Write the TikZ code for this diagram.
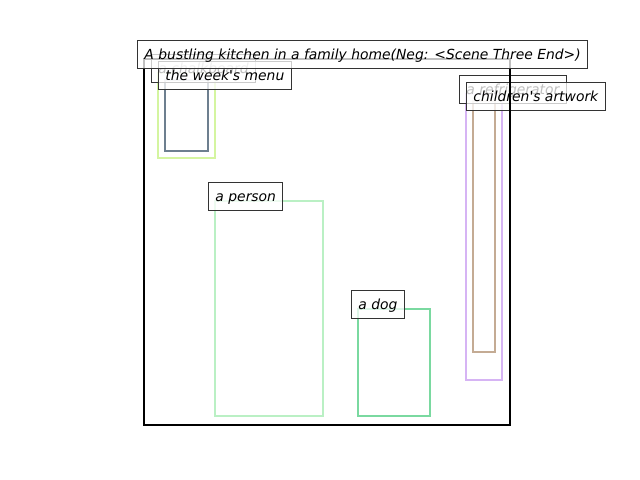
\documentclass[tikz,border=0pt]{standalone}
\usepackage{fontspec}
\setmainfont{DejaVu Sans}
\usetikzlibrary{positioning}
\definecolor{chalkgreen}{RGB}{212,245,160}
\definecolor{menuslate}{RGB}{109,127,143}
\definecolor{persongreen}{RGB}{186,240,196}
\definecolor{doggreen}{RGB}{122,217,160}
\definecolor{fridgeviolet}{RGB}{214,180,244}
\definecolor{arttan}{RGB}{196,171,148}
\tikzset{
  region/.style={line width=1.8pt},
  sceneframe/.style={draw=black, line width=2pt},
  lbl/.style={draw=black!80, line width=0.7pt, fill=white, fill opacity=0.75,
    text opacity=1, anchor=base west, xshift=-5pt, inner xsep=5pt, inner ysep=4.3pt,
    text height=9pt, text depth=2.2pt, font=\itshape\fontsize{10pt}{12pt}\selectfont},
}
\begin{document}
\begin{tikzpicture}[x=0.72pt,y=-0.72pt]
  \useasboundingbox (0,0) rectangle (640,480);
  % regions
  \draw[region, chalkgreen] (158,73) rectangle (215,158);
  \draw[region, menuslate] (165,80) rectangle (208,151);
  \draw[region, persongreen] (215,201) rectangle (323,416);
  \draw[region, doggreen] (358,309) rectangle (430,416);
  \draw[region, fridgeviolet] (466,94) rectangle (502,380);
  \draw[region, arttan] (473,101) rectangle (495,352);
  % labels
  \node[lbl] (chalkboard) at (158,73) {a chalkboard};
  \node[lbl] (menu) at (165,80) {the week\textquotesingle s menu};
  \node[lbl] (person) at (215,201) {a person};
  \node[lbl] (dog) at (358,309) {a dog};
  \node[lbl] (fridge) at (466,94) {a refrigerator};
  \node[lbl] (artwork) at (473,101) {children\textquotesingle s artwork};
  % scene
  \draw[sceneframe] (144,59) rectangle (510,425);
  \node[lbl] (title) at (144,59) {A bustling kitchen in a family home(Neg: <Scene Three End>)};
\end{tikzpicture}
\end{document}
